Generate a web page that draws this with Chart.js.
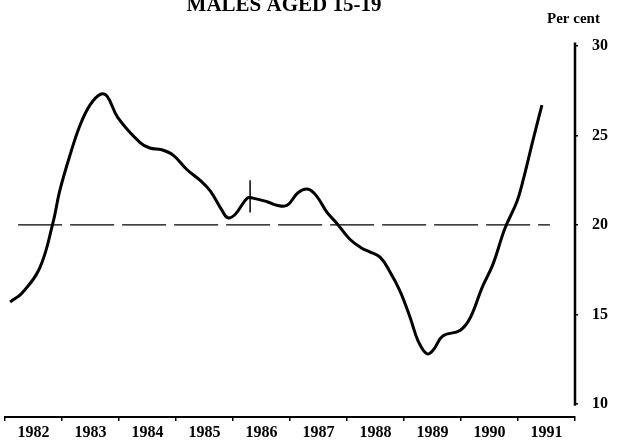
<!DOCTYPE html>
<html>
<head>
<meta charset="utf-8">
<script src="https://cdn.jsdelivr.net/npm/chart.js@4/dist/chart.umd.min.js"></script>
<style>
  html, body { margin: 0; padding: 0; background: #fff; }
  #wrap { width: 617px; height: 447px; position: relative; }
</style>
</head>
<body>
<div id="wrap"><canvas id="c"></canvas></div>
<script>
// year labels (one per interval)
const yearLabels = ['1982', '1983', '1984', '1985', '1986', '1987', '1988', '1989', '1990', '1991'];
const yTicks = [10, 15, 20, 25, 30];

// series: x = fractional year, y = per cent
const seriesYears = [
  1982.09, 1982.30, 1982.61, 1982.84, 1982.96, 1983.14, 1983.32, 1983.49, 1983.67, 1983.79,
  1983.98, 1984.37, 1984.54, 1984.75, 1984.95, 1985.19, 1985.42, 1985.60, 1985.81, 1985.91,
  1986.04, 1986.25, 1986.35, 1986.60, 1986.77, 1986.95, 1987.14, 1987.32, 1987.47, 1987.65,
  1987.82, 1988.05, 1988.26, 1988.40, 1988.58, 1988.75, 1988.93, 1989.11, 1989.25, 1989.40,
  1989.51, 1989.68, 1989.98, 1990.16, 1990.37, 1990.56, 1990.77, 1990.98, 1991.09, 1991.26,
  1991.42
];
const seriesValues = [
  15.7, 16.2, 17.6, 20.1, 21.9, 23.9, 25.6, 26.7, 27.3, 27.2,
  26.0, 24.6, 24.3, 24.2, 23.9, 23.1, 22.5, 21.9, 20.8, 20.4,
  20.6, 21.5, 21.5, 21.3, 21.1, 21.1, 21.8, 22.0, 21.6, 20.7,
  20.1, 19.2, 18.7, 18.5, 18.2, 17.4, 16.3, 14.8, 13.5, 12.8,
  13.0, 13.8, 14.1, 14.8, 16.5, 17.8, 19.8, 21.3, 22.5, 24.7,
  26.7
];

// dashed reference level and the small vertical marker
const refLevel = 20;
const refFrom = 1982.23, refTo = 1991.56;
const markerYear = 1986.30;
const markerLow = 20.7, markerHigh = 22.5;

// the right-hand scale line runs from just under 10 to just over 30
const axisYear = 1992;
const axisLow = 9.9, axisHigh = 30.2;

const serif = '"Liberation Serif", "DejaVu Serif", serif';

const textPlugin = {
  id: 'texts',
  afterDraw(chart) {
    const ctx = chart.ctx;
    ctx.save();
    ctx.fillStyle = '#000';
    ctx.textAlign = 'center';
    ctx.textBaseline = 'alphabetic';
    ctx.font = 'bold 21px ' + serif;
    ctx.fillText('MALES AGED 15-19', 284, 11);
    ctx.font = 'bold 15px ' + serif;
    ctx.textAlign = 'left';
    ctx.fillText('Per cent', 547, 23);
    ctx.restore();
  }
};

new Chart(document.getElementById('c'), {
  type: 'line',
  data: {
    datasets: [
      {
        label: 'ref',
        data: [{ x: refFrom, y: refLevel }, { x: refTo, y: refLevel }],
        borderColor: '#000',
        borderWidth: 1.2,
        borderDash: [44, 8],
        pointRadius: 0,
        xAxisID: 'x',
      },
      {
        label: 'marker',
        data: [{ x: markerYear, y: markerLow }, { x: markerYear, y: markerHigh }],
        borderColor: '#000',
        borderWidth: 1.5,
        pointRadius: 0,
        xAxisID: 'x',
      },
      {
        label: 'axis',
        data: [{ x: axisYear, y: axisLow }, { x: axisYear, y: axisHigh }],
        borderColor: '#000',
        borderWidth: 2.5,
        pointRadius: 0,
        clip: false,
        xAxisID: 'x',
      },
      {
        label: 'Males aged 15-19',
        data: seriesYears.map((yr, i) => ({ x: yr, y: seriesValues[i] })),
        borderColor: '#000',
        borderWidth: 3,
        pointRadius: 0,
        tension: 0.4,
        xAxisID: 'x',
      },
    ],
  },
  options: {
    animation: false,
    responsive: true,
    maintainAspectRatio: false,
    layout: { padding: { left: 5, right: 0, top: 46, bottom: 0 } },
    plugins: {
      legend: { display: false },
      tooltip: { enabled: false },
      title: { display: false },
    },
    scales: {
      x: {
        type: 'linear',
        min: 1982,
        max: 1992,
        display: false,
      },
      xl: {
        type: 'category',
        labels: yearLabels,
        position: 'bottom',
        offset: true,
        grid: { offset: true, drawOnChartArea: false, drawTicks: true, tickLength: 4, color: '#000', lineWidth: 1.5 },
        border: { display: true, color: '#000', width: 2 },
        ticks: { color: '#000', font: { family: serif, size: 16, weight: 'bold' }, padding: 2, maxRotation: 0, autoSkip: false },
        afterFit(scale) { scale.height = 30; },
      },
      y: {
        position: 'right',
        min: 9.27,
        max: 30,
        afterBuildTicks(scale) { scale.ticks = yTicks.map((v) => ({ value: v })); },
        grid: { drawOnChartArea: false, drawTicks: true, tickLength: 3, color: '#000', lineWidth: 1.5 },
        border: { display: false },
        ticks: { color: '#000', font: { family: serif, size: 16, weight: 'bold' }, padding: 14 },
        afterFit(scale) { scale.width = 42; },
      },
    },
  },
  plugins: [textPlugin],
});
</script>
</body>
</html>
